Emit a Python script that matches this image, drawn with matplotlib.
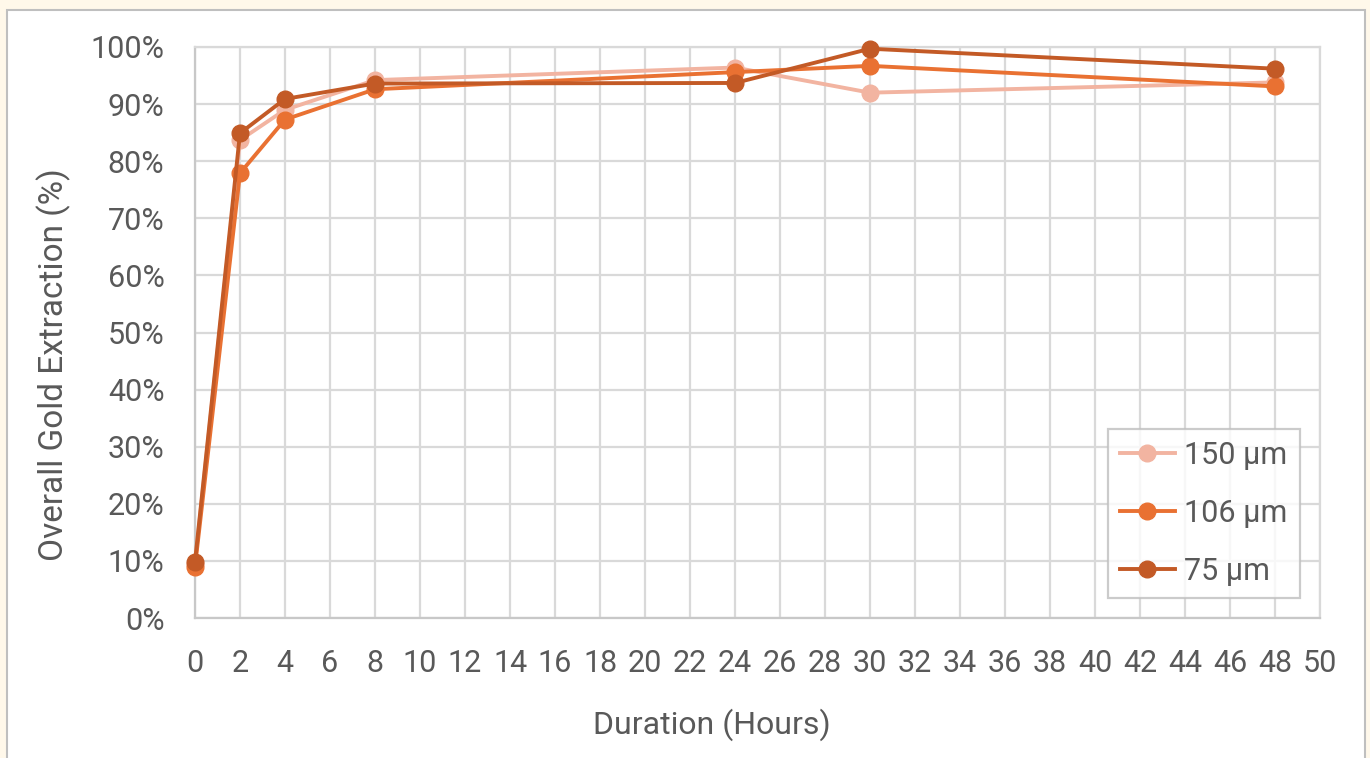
import matplotlib.pyplot as plt
from matplotlib.patches import Rectangle
from matplotlib.ticker import PercentFormatter, MultipleLocator

plt.rcParams['font.family'] = ['Roboto', 'DejaVu Sans']

# Daten
hours = [0, 2, 4, 8, 24, 30, 48]
ext_150 = [9.5, 83.7, 89.0, 94.2, 96.4, 92.0, 93.8]
ext_106 = [9.0, 77.9, 87.3, 92.6, 95.6, 96.7, 93.1]
ext_75 = [9.8, 84.9, 90.9, 93.6, 93.7, 99.7, 96.2]
series_labels = ['150 µm', '106 µm', '75 µm']
series_colors = ['#F2B4A1', '#E97132', '#C35A26']

text_col = '#595959'
grid_col = '#D9D9D9'

fig = plt.figure(figsize=(13.7, 7.58), dpi=100)
fig.patch.set_facecolor('#FFF8EA')

# weisser Diagrammrahmen
fig.patches.append(Rectangle((7/1370, -0.01), (1365-7)/1370, 1 - 10/758 + 0.01,
                             transform=fig.transFigure, facecolor='white',
                             edgecolor='#BFBFBF', linewidth=1.5, zorder=-10))

ax = fig.add_axes([195/1370, 1 - 618/758, (1320-195)/1370, (618-47)/758])

for ys, lab, col in zip([ext_150, ext_106, ext_75], series_labels, series_colors):
    ax.plot(hours, ys, color=col, linewidth=2.8, marker='o', markersize=12,
            label=lab, clip_on=False, zorder=3)

ax.set_xlim(0, 50)
ax.set_ylim(0, 100)
ax.xaxis.set_major_locator(MultipleLocator(2))
ax.yaxis.set_major_locator(MultipleLocator(10))
ax.yaxis.set_major_formatter(PercentFormatter(decimals=0))
ax.grid(True, color=grid_col, linewidth=1.6)
ax.set_axisbelow(True)
for s in ax.spines.values():
    s.set_color(grid_col)
    s.set_linewidth(1.6)
ax.spines['left'].set_color('#C8C8C8')
ax.spines['bottom'].set_color('#C8C8C8')

ax.tick_params(length=0, labelsize=22, colors=text_col)
ax.tick_params(axis='x', pad=22)
ax.tick_params(axis='y', pad=22)

ax.set_xlabel('Duration (Hours)', fontsize=23, color=text_col, labelpad=22, x=0.459)
ax.set_ylabel('Overall Gold Extraction (%)', fontsize=24, color=text_col, labelpad=14, y=0.443)

leg = ax.legend(loc='lower right', bbox_to_anchor=(0.982, 0.035), borderaxespad=0,
                fontsize=22, frameon=True, fancybox=False, handlelength=1.8,
                handletextpad=0.3, labelspacing=0.95, borderpad=0.4,
                labelcolor=text_col)
leg.get_frame().set_edgecolor('#BFBFBF')
leg.get_frame().set_linewidth(1.6)

plt.savefig('out.png', dpi=100, facecolor=fig.get_facecolor())
